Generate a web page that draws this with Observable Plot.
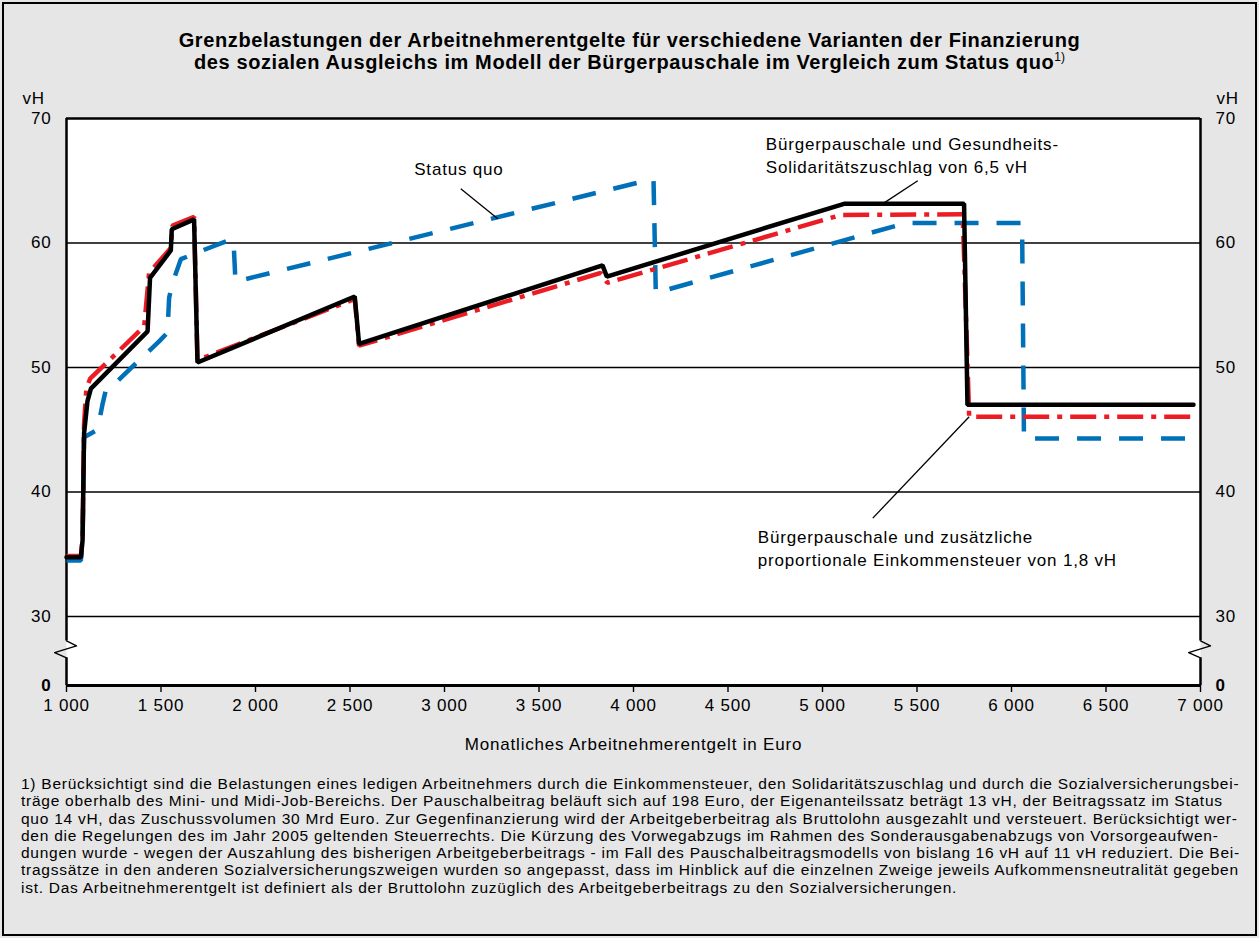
<!DOCTYPE html>
<html><head><meta charset="utf-8">
<script src="https://cdn.jsdelivr.net/npm/d3@7"></script>
<script src="https://cdn.jsdelivr.net/npm/@observablehq/plot@0.6"></script>
<style>
html,body{margin:0;padding:0;background:#fff;}
#page{position:relative;width:1259px;height:938px;background:#e6e6e6;overflow:hidden;font-family:"Liberation Sans",Arial,sans-serif;color:#000;}
#border{position:absolute;left:2px;top:2px;width:1255px;height:934px;box-sizing:border-box;border:2px solid #000;pointer-events:none;}
#title{position:absolute;left:0;top:29px;width:1259px;text-align:center;font-weight:bold;font-size:20px;letter-spacing:0.6px;line-height:22px;}
#title sup{font-size:12px;font-weight:normal;vertical-align:8px;line-height:0;letter-spacing:0;}
#chart{position:absolute;left:0;top:80px;}
#note{position:absolute;left:21px;top:775px;font-size:15.5px;letter-spacing:0.74px;line-height:17.3px;white-space:nowrap;}
</style></head>
<body>
<div id="page">
  <div id="title">Grenzbelastungen der Arbeitnehmerentgelte für verschiedene Varianten der Finanzierung<br>des sozialen Ausgleichs im Modell der Bürgerpauschale im Vergleich zum Status quo<sup>1)</sup></div>
  <div id="chart"></div>
  <div id="note"></div>
  <div id="border"></div>
</div>
<script>
// ---- data ----
const xTicks = [1000, 1500, 2000, 2500, 3000, 3500, 4000, 4500, 5000, 5500, 6000, 6500, 7000];
const yTicks = [30, 40, 50, 60, 70];
const yGrid = [30, 40, 50, 60];

// Bürgerpauschale und Gesundheits-Solidaritätszuschlag von 6,5 vH (black)
const blackX = [1000, 1076, 1085, 1093, 1111, 1129, 1429, 1442, 1552, 1557, 1675, 1693, 2525, 2548, 3836, 3859, 5114, 5749, 5767, 6963];
const blackY = [34.75, 34.75, 36.1, 44.7, 47.3, 48.3, 52.9, 57.2, 59.4, 61.1, 61.9, 50.4, 55.7, 51.9, 58.2, 57.3, 63.15, 63.15, 47.0, 47.0];

// Bürgerpauschale und zusätzliche proportionale Einkommensteuer von 1,8 vH (red)
const redX = [1000, 1076, 1085, 1093, 1105, 1125, 1411, 1437, 1552, 1561, 1675, 1693, 2525, 2548, 3827, 3862, 5097, 5742, 5776, 6963];
const redY = [34.85, 34.85, 36.3, 45.5, 48.3, 49.1, 53.3, 57.6, 59.6, 61.4, 62.1, 50.6, 55.5, 51.75, 57.6, 56.8, 62.25, 62.3, 46.05, 46.05];

// Status quo (blue)
const blueX = [1000, 1076, 1085, 1093, 1164, 1190, 1208, 1234, 1490, 1534, 1543, 1561, 1605, 1711, 1872, 1884, 1894, 4092, 4106, 4118, 5440, 6056, 6066, 6963];
const blueY = [34.5, 34.5, 36.0, 44.4, 45.0, 47.0, 48.2, 48.4, 52.1, 52.8, 55.6, 56.8, 58.7, 59.35, 60.3, 60.1, 56.9, 65.1, 65.0, 56.0, 61.6, 61.6, 44.3, 44.3];

// annotations
const labelTexts = ["Status quo", "Bürgerpauschale und Gesundheits-\nSolidaritätszuschlag von 6,5 vH", "Bürgerpauschale und zusätzliche\nproportionale Einkommensteuer von 1,8 vH"];
const labelX = [3076, 4700, 4658];
const labelY = [65.9, 67.15, 35.6];
const labelAnchor = ["middle", "start", "start"];
const leaderX1 = [3086, 5324, 5776];
const leaderY1 = [64.35, 63.2, 46.05];
const leaderX2 = [3282, 5504, 5266];
const leaderY2 = [61.94, 65.0, 37.9];

// axis-break zigzag (offsets in euro, values in vH)
const breakDX = [0, 53, -63, 0];
const breakY = [19.4, 17.2, 14.3, 12.0];

const xTitle = "Monatliches Arbeitnehmerentgelt in Euro";
const yUnit = "vH";

const noteLines = [
"1) Berücksichtigt sind die Belastungen eines ledigen Arbeitnehmers durch die Einkommensteuer, den Solidaritätszuschlag und durch die Sozialversicherungsbei-",
"träge oberhalb des Mini- und Midi-Job-Bereichs. Der Pauschalbeitrag beläuft sich auf 198 Euro, der Eigenanteilssatz beträgt 13 vH, der Beitragssatz im Status",
"quo 14 vH, das Zuschussvolumen 30 Mrd Euro. Zur Gegenfinanzierung wird der Arbeitgeberbeitrag als Bruttolohn ausgezahlt und versteuert. Berücksichtigt wer-",
"den die Regelungen des im Jahr 2005 geltenden Steuerrechts. Die Kürzung des Vorwegabzugs im Rahmen des Sonderausgabenabzugs von Vorsorgeaufwen-",
"dungen wurde - wegen der Auszahlung des bisherigen Arbeitgeberbeitrags - im Fall des Pauschalbeitragsmodells von bislang 16 vH auf 11 vH reduziert. Die Bei-",
"tragssätze in den anderen Sozialversicherungszweigen wurden so angepasst, dass im Hinblick auf die einzelnen Zweige jeweils Aufkommensneutralität gegeben",
"ist. Das Arbeitnehmerentgelt ist definiert als der Bruttolohn zuzüglich des Arbeitgeberbeitrags zu den Sozialversicherungen."
];

// ---- build ----
const toPts = (xs, ys) => xs.map((x, i) => ({x, y: ys[i]}));
const black = toPts(blackX, blackY);
const red = toPts(redX, redY);
const blue = toPts(blueX, blueY);
const labels = labelTexts.map((t, i) => ({t, x: labelX[i], y: labelY[i], a: labelAnchor[i]}));
const leaders = leaderX1.map((x1, i) => ({x1, y1: leaderY1[i], x2: leaderX2[i], y2: leaderY2[i]}));
const zig = (x0) => breakDX.map((d, i) => ({x: x0 + d, y: breakY[i]}));
const fmt = (v) => d3.format(",")(v).replace(/,/g, " ");

const H = 690;
const chart = Plot.plot({
  width: 1259,
  height: H,
  marginLeft: 66,
  marginRight: 59,
  marginTop: 38,
  marginBottom: 85,
  style: {background: "transparent", fontFamily: "'Liberation Sans', Arial, sans-serif", fontSize: "17px", letterSpacing: "0.8px", color: "#000", overflow: "visible"},
  x: {domain: [1000, 7000]},
  y: {type: "linear", domain: [0, 30, 70], range: [605, 536, 38]},
  marks: [
    Plot.frame({fill: "white", stroke: null}),
    Plot.gridY(yGrid, {stroke: "#000", strokeOpacity: 1, strokeWidth: 1.6}),
    Plot.axisX(xTicks, {anchor: "bottom", tickFormat: fmt, tickSize: 7, tickPadding: 6, strokeWidth: 1.4, fontSize: 17,
      label: xTitle, labelAnchor: "center", labelArrow: "none", labelOffset: 64}),
    Plot.axisY(yTicks, {anchor: "left", tickSize: 0, tickPadding: 15, fontSize: 17, label: null}),
    Plot.axisY([0], {anchor: "left", tickSize: 0, tickPadding: 15, fontSize: 17, fontWeight: "bold", label: null}),
    Plot.axisY(yTicks, {anchor: "right", tickSize: 0, tickPadding: 15, fontSize: 17, label: null}),
    Plot.axisY([0], {anchor: "right", tickSize: 0, tickPadding: 15, fontSize: 17, fontWeight: "bold", label: null}),
    Plot.text([yUnit], {frameAnchor: "top-left", dx: -44, dy: -20, textAnchor: "start", lineAnchor: "middle", fontSize: 17}),
    Plot.text([yUnit], {frameAnchor: "top-right", dx: 16, dy: -20, textAnchor: "start", lineAnchor: "middle", fontSize: 17}),
    // frame with broken side axes
    Plot.ruleY([70], {stroke: "#000", strokeWidth: 2.5}),
    Plot.ruleY([0], {stroke: "#000", strokeWidth: 3}),
    Plot.ruleX([1000, 7000], {y1: 70, y2: breakY[0], stroke: "#000", strokeWidth: 2.5}),
    Plot.ruleX([1000, 7000], {y1: breakY[3], y2: 0, stroke: "#000", strokeWidth: 2.5}),
    Plot.line(zig(1000), {x: "x", y: "y", stroke: "#000", strokeWidth: 1.3}),
    Plot.line(zig(7000), {x: "x", y: "y", stroke: "#000", strokeWidth: 1.3}),
    // series
    Plot.line(blue, {x: "x", y: "y", stroke: "#0070b8", strokeWidth: 4.5, strokeDasharray: "24,18", strokeLinejoin: "miter", strokeLinecap: "butt"}),
    Plot.line(red, {x: "x", y: "y", stroke: "#ec1c24", strokeWidth: 4.5, strokeDasharray: "26,8,5,8", strokeLinejoin: "miter", strokeLinecap: "butt"}),
    Plot.line(black, {x: "x", y: "y", stroke: "#000", strokeWidth: 4.5, strokeLinejoin: "miter"}),
    // annotations
    Plot.link(leaders, {x1: "x1", y1: "y1", x2: "x2", y2: "y2", stroke: "#000", strokeWidth: 1.3}),
    Plot.text(labels.filter(d => d.a === "middle"), {x: "x", y: "y", text: "t", textAnchor: "middle", lineAnchor: "middle", fontSize: 17}),
    Plot.text(labels.filter(d => d.a === "start"), {x: "x", y: "y", text: "t", textAnchor: "start", lineAnchor: "middle", fontSize: 17, lineHeight: 1.36})
  ]
});
document.getElementById("chart").appendChild(chart);

const note = document.getElementById("note");
noteLines.forEach(l => { const d = document.createElement("div"); d.textContent = l; note.appendChild(d); });
</script>
</body></html>
